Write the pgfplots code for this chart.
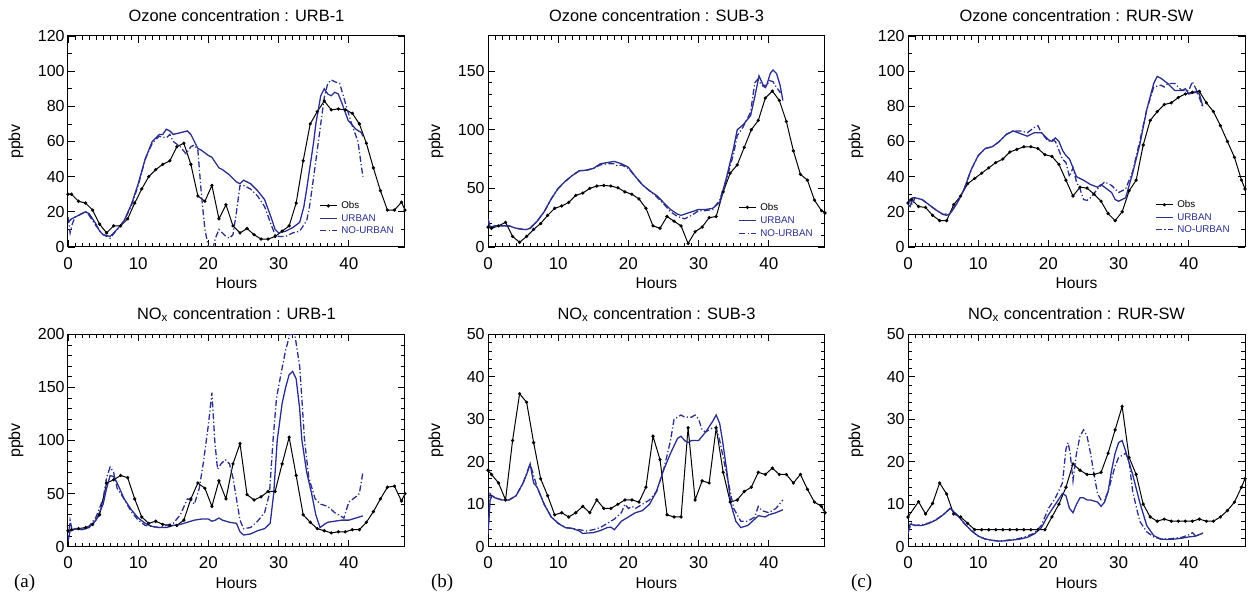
\documentclass[border=0pt]{standalone}
\usepackage{fontspec}
\setmainfont{Liberation Sans}
\newfontfamily\serifface{Liberation Serif}
\usepackage{pgfplots}
\pgfplotsset{compat=1.18}
\definecolor{ublue}{RGB}{43,47,140}
\pgfplotsset{
  panel/.style={
    scale only axis, width=168.5pt, height=105.5pt,
    xmin=0, xmax=48, xtick={0,10,20,30,40}, minor x tick num=9,
    tick align=inside, tick pos=both,
    major tick length=3.5pt, minor tick length=2pt,
    axis line style={line width=0.5pt},
    every tick/.style={line width=0.4pt, black},
    /pgf/number format/assume math mode=true,
    xticklabel style={font=\fontsize{8.5}{9}\selectfont, inner sep=0pt, yshift=-5pt},
    yticklabel style={font=\fontsize{8}{9}\selectfont, inner sep=0pt, xshift=-1.5pt},
    every axis title shift=0pt,
    title style={font=\fontsize{8.2}{9}\selectfont, at={(axis description cs:0.5,1)}, anchor=base, yshift=7.2pt},
    xlabel=Hours, ylabel=ppbv,
    xlabel style={font=\fontsize{7.8}{9}\selectfont, at={(axis description cs:0.5,0)}, anchor=base, yshift=-20.8pt},
    ylabel style={font=\fontsize{8}{9}\selectfont, at={(axis description cs:-0.154,0.5)}, anchor=center},
    legend cell align=left,
    legend style={draw=none, fill=none, inner sep=0pt, row sep=1.3pt,
      font=\fontsize{4.9}{5.5}\selectfont,
      nodes={inner sep=0.4pt, text height=3.6pt, text depth=0.5pt}},
    /tikz/every odd column/.append style={column sep=1.6pt},
    legend image code/.code={\draw[mark repeat=2,mark phase=2] plot coordinates {(0pt,0pt) (4.15pt,0pt) (8.3pt,0pt)};},
  },
  obs/.style={black, line width=0.5pt, mark=*, mark size=0.55pt},
  urb/.style={ublue, line width=0.65pt, no marks},
  nourb/.style={ublue, line width=0.65pt, no marks, dash pattern=on 3pt off 1.2pt on 0.6pt off 1.2pt},
}
\begin{document}
\begin{tikzpicture}
\useasboundingbox (0,0) rectangle (626.5pt,296pt);
% ---------- Ozone URB-1
\begin{axis}[panel, at={(34pt,172.5pt)}, anchor=south west,
  ymin=0, ymax=120, ytick={0,20,...,120}, minor y tick num=1,
  title={Ozone concentration : URB-1},
  legend style={at={(axis description cs:0.745,0.22)}, anchor=north west}]
\addplot[obs] coordinates {(0,30)(0.5,30)(1.5,26)(2.5,25)(3.5,21)(4.5,13)(5.5,8)(6.5,12)(7.5,12)(8.5,16)(9.5,25)(10.5,33)(11.5,40)(12.5,44)(13.5,47)(14.5,49)(15.5,57)(16.5,59)(17.5,47)(18.5,29)(19.5,26)(20.5,35)(21.5,16)(22.5,24)(23.5,12)(24.5,8)(25.5,10.5)(26.5,7)(27.5,4.5)(28.5,4.5)(29.5,6)(30.5,9)(31.5,12)(32.5,25)(33.5,49)(34.5,70)(35.5,77)(36.5,83)(37.5,78)(38.5,78.5)(39.5,78)(40.5,76)(41.5,70)(42.5,59)(43.5,45)(44.5,32)(45.5,21)(46.5,21)(47.5,25.5)(48,21)};
\addlegendentry{Obs}
\addplot[urb] coordinates {(0,14)(0.5,16)(1,17)(2,19)(2.5,20)(3,19)(4,13)(4.5,9)(5,7)(6,6)(7,10)(8,15)(9,24)(10,36)(11,50)(12,60)(13,64)(13.5,64)(14,67)(14.5,66)(15,64)(16,65)(17,66)(17.5,64)(18,60)(18.5,56)(19,55)(20,52)(20.5,51)(21,48)(21.5,45)(22,44)(23,41)(24,37)(24.5,36)(25,38)(26,36)(27,32)(28,27)(29,16)(29.5,10)(30,8)(31,9)(32,11)(33,14)(33.6,23)(34,33)(35,60)(35.3,70)(36,86)(36.5,90)(37,87)(37.5,86)(38,88)(38.5,87)(39,82)(39.9,72)(41,67)(41.8,65)(42,63)};
\addlegendentry{\textcolor{ublue}{URBAN}}
\addplot[nourb] coordinates {(0,17)(0.3,8)(0.6,13)(1,17)(2,19)(2.5,20)(3,18)(4,12)(5,7)(6,5)(7,10)(8,15)(9,23)(10,35)(11,50)(12,59)(13,63)(14,62)(14.5,64)(15,60)(16,57)(16.8,53)(17.5,57)(18,58)(18.5,55)(19,30)(19.5,10)(20,0)(20.5,-3)(21,5)(21.5,10)(22,8)(22.5,6)(23,5)(23.5,7)(24,20)(24.5,35)(25,35)(26,33)(27,29)(28,23)(29,12)(29.5,7)(30,6)(31,6)(32,8)(33,9)(34,15)(34.4,23)(35,40)(36,70)(36.5,85)(37,93)(37.5,95)(38,94)(38.7,93)(39.5,82)(40.4,70)(41.3,60)(42,40)};
\addlegendentry{\textcolor{ublue}{NO-URBAN}}
\end{axis}
% ---------- Ozone SUB-3
\begin{axis}[panel, at={(244pt,172.5pt)}, anchor=south west,
  ymin=0, ymax=180, ytick={0,50,100,150}, minor y tick num=4,
  title={Ozone concentration : SUB-3},
  legend style={at={(axis description cs:0.742,0.213)}, anchor=north west, row sep=1.7pt}]
\addplot[obs] coordinates {(0,17)(0.5,16)(1.5,18)(2.5,21)(3.5,9)(4.5,4)(5.5,9)(6.5,15)(7.5,20)(8.5,27)(9.5,33)(10.5,35)(11.5,38)(12.5,44)(13.5,46)(14.5,50)(15.5,52)(16.5,52.5)(17.5,52)(18.5,50.5)(19.5,47)(20.5,45)(21.5,41)(22.5,33)(23.5,18)(24.5,16)(25.5,26)(26.5,22)(27.5,18)(28.5,3)(29.5,13)(30.5,17)(31.5,25)(32.5,26)(33.5,47)(34.5,63)(35.5,70)(36.5,85)(37.5,100)(38.5,108)(39.5,127)(40.5,133)(41.5,125)(42.5,107)(43.5,82)(44.5,62)(45.5,57)(46.5,40)(47.5,31)(48,29)};
\addlegendentry{Obs}
\addplot[urb] coordinates {(0,24)(0.3,17)(1,18)(2,18)(3,18)(4,16)(5,15)(5.5,15)(6,16)(7,22)(8,30)(9,41)(10,50)(11,56)(12,61)(13,65)(14,65.5)(15,67)(16,71)(17,72)(18,73)(19,71)(20,68)(21,60)(22,53)(23,48)(24,44)(25,38)(26,32)(27,28)(27.5,27)(28,28)(29,30)(30,32)(31,32)(32,33)(33,38)(34,60)(35,85)(35.5,100)(36.3,104)(37.4,112)(38,128)(38.6,146)(39.2,138)(39.7,138)(40.2,148)(40.6,151)(41.1,148)(41.6,138)(42,125)};
\addlegendentry{\textcolor{ublue}{URBAN}}
\addplot[nourb] coordinates {(0,24)(0.3,17)(1,18)(2,18)(3,18)(4,16)(5,15)(5.5,15)(6,16)(7,22)(8,30)(9,41)(10,50)(11,56)(12,61)(13,65)(14,65.5)(15,67)(16,70)(17,71)(18,71)(18.5,69)(19,70)(20,67)(21,60)(22,53)(23,48)(24,43)(25,37)(26,30)(27,26)(28,24)(29,27)(30,31)(31,31)(32,32)(33,40)(34,58)(35,80)(35.5,95)(36.3,102)(37.4,115)(38,140)(38.4,143)(39,138)(39.5,136)(40.1,142)(40.6,141)(41.1,136)(41.6,132)(42,133)};
\addlegendentry{\textcolor{ublue}{NO-URBAN}}
\end{axis}
% ---------- Ozone RUR-SW
\begin{axis}[panel, at={(454pt,172.5pt)}, anchor=south west,
  ymin=0, ymax=120, ytick={0,20,...,120}, minor y tick num=1,
  title={Ozone concentration : RUR-SW},
  legend style={at={(axis description cs:0.733,0.225)}, anchor=north west}]
\addplot[obs] coordinates {(0,25)(0.5,27)(1.5,23)(2.5,22.5)(3.5,18)(4.5,15)(5.5,15)(6.5,24)(7.5,29)(8.5,36)(9.5,39)(10.5,42)(11.5,45)(12.5,48)(13.5,50)(14.5,54)(15.5,55.5)(16.5,57)(17.5,57)(18.5,56)(19.5,52.5)(20.5,51.5)(21.5,47)(22.5,38)(23.5,29)(24.5,34)(25.5,33.5)(26.5,30)(27.5,26)(28.5,19)(29.5,15)(30.5,20)(31.5,32)(32.5,38)(33.5,58)(34.5,72)(35.5,77)(36.5,81)(37.5,82)(38.5,85)(39.5,87)(40.5,88)(41.5,88.5)(42.5,82)(43.5,77)(44.5,69)(45.5,60)(46.5,51)(47.5,38)(48,33)};
\addlegendentry{Obs}
\addplot[urb] coordinates {(0,24)(0.3,23)(0.7,28)(1,28)(2,27)(3,24)(4,21)(5,18.5)(5.5,18)(6,19)(7,25)(8,33)(9,44)(10,52)(11,56)(12,57)(13,60)(14,64)(15,66)(16,64.5)(17,63)(18,65)(19,65)(20,61)(20.5,60)(21,62)(21.5,60)(22,55)(22.5,52)(23,50)(23.5,45)(24,40)(25,38)(26,35.5)(27,34)(27.5,35.5)(28,34)(29,31)(29.5,27)(30,26)(31,28)(32,42)(33,58)(34,78)(35,93)(35.5,97)(36,96)(37,93)(37.5,91)(38,89)(39,89)(39.5,90)(40,87)(41,88)(41.5,87)(42,80)};
\addlegendentry{\textcolor{ublue}{URBAN}}
\addplot[nourb] coordinates {(0,25)(0.3,27)(0.6,24)(1,28)(2,27)(3,24)(4,21)(5,18.5)(6,19)(7,25)(8,33)(9,44)(10,52)(11,56)(12,57)(13,60)(14,64)(15,66)(16,66)(17,65)(18,68)(18.5,69)(19,65)(20,60)(20.5,61)(21,60)(22,50)(22.5,48)(23,40)(23.5,45)(24,37)(24.5,33)(25,27)(25.5,26.5)(26,28)(27,33)(28,37)(29,35)(30,31)(31,33)(32,43)(33,60)(34,78)(35,91)(36,92)(36.5,91)(37,93)(38,93)(39,89)(40,89)(40.5,94)(41,90)(41.5,85)(42,79)};
\addlegendentry{\textcolor{ublue}{NO-URBAN}}
\end{axis}
% ---------- NOx URB-1
\begin{axis}[panel, height=106.2pt, at={(34pt,22.65pt)}, anchor=south west,
  ymin=0, ymax=200, ytick={0,50,...,200}, minor y tick num=4,
  title={NO$_\mathrm{x}$ concentration : URB-1}, title style={yshift=0.3pt}]
\addplot[obs] coordinates {(0,15)(0.5,16)(1.5,17)(2.5,18)(3.5,21)(4.5,30)(5.5,60)(6.5,63)(7.5,67)(8.5,65)(9.5,45)(10.5,28)(11.5,22)(12.5,24)(13.5,21)(14.5,20)(15.5,20)(16.5,25)(17.5,45)(18.5,60)(19.5,55)(20.5,38)(21.5,62)(22.5,45)(23.5,78)(24.5,97)(25.5,49)(26.5,44)(27.5,47)(28.5,52)(29.5,52)(30.5,78)(31.5,103)(32.5,67)(33.5,30)(34.5,23)(35.5,17)(36.5,15)(37.5,13)(38.5,14)(39.5,14)(40.5,16)(41.5,16)(42.5,23)(43.5,33)(44.5,45)(45.5,56)(46.5,57)(47.5,43)(48,50)};
\addplot[urb] coordinates {(0,5)(0.3,15)(1,17)(2,16)(3,18)(4,25)(5,40)(5.5,55)(6,67)(6.5,66)(7,60)(8,45)(9,35)(10,27)(11,22)(12,19)(13,18)(14,18)(15,20)(16,21)(17,23)(18,25)(19,26)(20,26)(20.5,24)(21,25)(21.5,27)(22,25)(23,23)(24,22)(24.5,14)(25,11)(26,12)(27,15)(28,17)(28.8,22)(29.3,50)(29.8,100)(30.5,135)(31,150)(31.5,162)(32,165)(32.5,158)(33,130)(33.3,101)(34,70)(34.7,50)(35.3,30)(35.9,18)(36.5,21)(37,23)(38,24)(39,25)(40,25)(41,27)(42,29)};
\addplot[nourb] coordinates {(0,5)(0.3,25)(0.6,15)(1,17)(2,17)(3,19)(4,28)(5,45)(5.5,65)(6,75)(6.5,70)(7,55)(8,45)(9,33)(10,25)(11,20)(12,19)(13,18)(14,20)(15,22)(16,30)(17,45)(17.5,44)(18,40)(18.7,55)(19.3,80)(20,115)(20.5,145)(20.9,100)(21.3,73)(21.8,78)(22.4,82)(23,78)(23.5,65)(24,45)(24.5,25)(25,17)(26,18)(27,24)(28,32)(28.7,50)(29.2,100)(29.7,140)(30.4,165)(31,185)(31.6,200)(32.3,200)(33,170)(33.7,100)(34.3,65)(35.2,45)(36,40)(37,38)(38,32)(39.3,27)(40,42)(41,47)(41.5,50)(42,70)};
\end{axis}
% ---------- NOx SUB-3
\begin{axis}[panel, height=106.2pt, at={(244pt,22.65pt)}, anchor=south west,
  ymin=0, ymax=50, ytick={0,10,...,50}, minor y tick num=4,
  title={NO$_\mathrm{x}$ concentration : SUB-3}, title style={yshift=0.3pt}]
\addplot[obs] coordinates {(0,18)(0.5,17)(1.5,15)(2.5,11)(3.5,25)(4.5,36)(5.5,34)(6.5,24.5)(7.5,16)(8.5,12)(9.5,7.5)(10.5,8)(11.5,7)(12.5,8)(13.5,9.5)(14.5,8)(15.5,11)(16.5,9)(17.5,9)(18.5,10)(19.5,11)(20.5,11)(21.5,10.5)(22.5,14)(23.5,26)(24.5,20.5)(25.5,7.5)(26.5,7)(27.5,7)(28.5,28)(29.5,11)(30.5,15.5)(31.5,15)(32.5,28)(33.5,17.5)(34.5,10.5)(35.5,11)(36.5,13)(37.5,14)(38.5,17.5)(39.5,17)(40.5,18.5)(41.5,17)(42.5,17)(43.5,15)(44.5,17)(45.5,13.5)(46.5,10.5)(47.5,9.5)(48,8)};
\addplot[urb] coordinates {(0,3)(0.3,11)(0.6,12)(1,11.5)(2,11)(3,11)(4,12)(5,15)(5.5,17)(6,19.5)(6.5,15)(7,14)(8,10)(9,7)(10,5.5)(11,4.5)(12,4.3)(13,3.7)(13.5,3.1)(14,3.2)(15,3.3)(16,3.8)(17,4.5)(17.5,4.6)(18,4)(18.5,5)(19,6)(20,7)(21,8)(22,8.5)(23,10)(24,13)(25,18)(26,22)(27,25.5)(27.5,26)(28,25)(28.5,24.5)(29,25)(30,25)(31,27)(32,29.5)(32.5,31)(33,29)(33.4,25)(34,18)(34.6,10)(35.3,6)(36,4.5)(37,5)(38,6.5)(38.5,7.3)(39.5,7)(40,7.5)(41,8)(42,8.7)};
\addplot[nourb] coordinates {(0,3)(0.3,12.5)(0.6,12)(1,11.5)(2,11)(3,11)(4,12)(5,15)(6,19.5)(7,14)(8,10)(9,7)(10,5.5)(11,4.5)(12,4.3)(13,4)(14,3.7)(15,4)(16,4.5)(17,5.5)(18,6.5)(19,8)(19.5,10)(20,9)(20.5,9.5)(21,9)(22,10)(23,11)(24,13)(25,18)(26,25)(26.5,30)(27.5,31)(28,30.5)(29,30.5)(29.5,31)(30,30)(30.5,27.5)(31,27)(32,28)(32.5,28)(33,25)(34,17)(35,9)(36,6)(37,6)(38,7)(38.5,9.5)(39,8.5)(40,8)(41,9)(42,11)};
\end{axis}
% ---------- NOx RUR-SW
\begin{axis}[panel, height=106.2pt, at={(454pt,22.65pt)}, anchor=south west,
  ymin=0, ymax=50, ytick={0,10,...,50}, minor y tick num=4,
  title={NO$_\mathrm{x}$ concentration : RUR-SW}, title style={yshift=0.3pt}]
\addplot[obs] coordinates {(0,7)(1.5,10.6)(2.5,7.7)(3.5,10.2)(4.5,15)(5.5,12.4)(6.5,7.7)(7.5,7)(8.5,5.5)(9.5,4)(10.5,4)(11.5,4)(12.5,4)(13.5,4)(14.5,4)(15.5,4)(16.5,4)(17.5,4)(18.5,4)(19.5,4)(20.5,7)(21.5,10)(22.5,14)(23.5,19.5)(24.5,18)(25.5,17)(26.5,17)(27.5,17.5)(28.5,22)(29.5,27.5)(30.5,33)(31.5,21)(32.5,17)(33.5,10)(34.5,7)(35.5,6)(36.5,6.5)(37.5,6)(38.5,6)(39.5,6)(40.5,6)(41.5,6.5)(42.5,6)(43.5,6)(44.5,7)(45.5,8.5)(46.5,10.5)(47.5,14)(48,16)};
\addplot[urb] coordinates {(0,3)(0.3,5.3)(0.6,5.2)(1,5)(2,5)(3,5.5)(4,6.3)(5,7.5)(6,9)(7,7.5)(8,5.5)(9,3.8)(10,2.5)(11,1.8)(12,1.5)(13,1.3)(14,1.4)(15,1.6)(16,1.8)(17,2.2)(18,3)(19,4.5)(20,7.5)(21,10)(22,12.5)(22.5,12)(23,9)(23.5,8)(24,10)(24.5,11.5)(25,11.5)(25.5,11)(26,11)(27,10.5)(27.5,9.5)(28,10.5)(28.5,13)(29,18)(29.5,22)(30,24.5)(30.5,25)(31,22.5)(32,17)(33,10.5)(34,5)(35,2.6)(36,1.8)(37,1.7)(38,1.8)(39,2)(40,2.3)(41,2.5)(42,3.2)};
\addplot[nourb] coordinates {(0,3.5)(0.5,5.5)(1,5)(2,5.2)(3,5.6)(4,6.4)(5,7.5)(6,9)(7,7.5)(8,5.5)(9,3.8)(10,2.5)(11,1.8)(12,1.5)(13,1.3)(14,1.5)(15,1.7)(16,2)(17,2.5)(18,3.2)(19,5)(20,9)(21,11.5)(22,15)(22.5,23)(22.8,24.5)(23.1,22)(23.5,15.5)(24,22)(24.5,26)(25,27.5)(25.5,26)(26,22)(26.5,17)(27,12.5)(27.5,11)(28,11)(28.5,13)(29,16)(29.5,19)(30,21)(31,22)(31.5,20)(32,13)(33,6)(34,3.5)(35,2.3)(36,1.8)(37,1.8)(38,2)(39,2.2)(40,2.8)(40.5,3.3)(41,2.5)(42,3.2)};
\end{axis}
\node[anchor=base west, font=\serifface\fontsize{9.5}{10}\selectfont] at (3.5pt,2pt) {(a)};
\node[anchor=base west, font=\serifface\fontsize{9.5}{10}\selectfont] at (212pt,2pt) {(b)};
\node[anchor=base west, font=\serifface\fontsize{9.5}{10}\selectfont] at (422pt,2pt) {(c)};
\end{tikzpicture}
\end{document}
